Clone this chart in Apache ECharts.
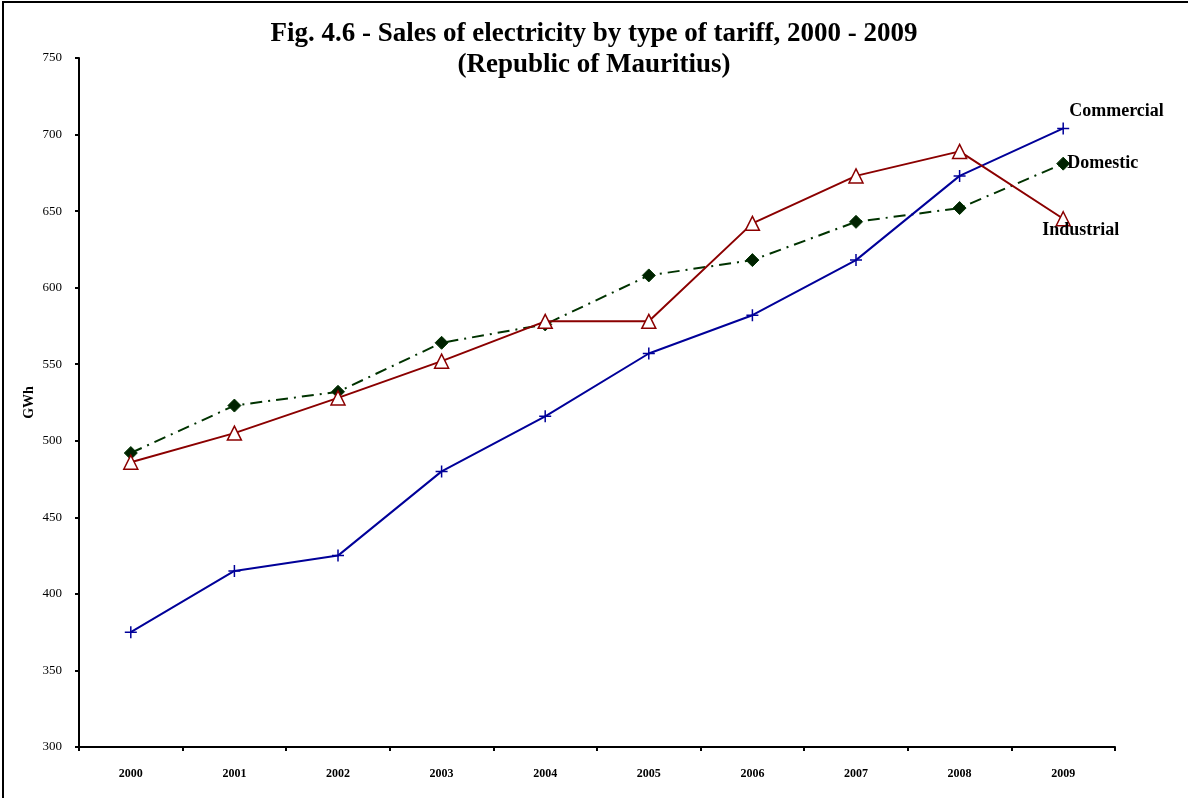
<!DOCTYPE html>
<html>
<head>
<meta charset="utf-8">
<title>Sales of electricity by type of tariff</title>
<script src="https://cdn.jsdelivr.net/npm/echarts@6/dist/echarts.min.js"></script>
<style>
  html, body { margin: 0; padding: 0; background: #fff; }
  #frame { position: absolute; left: 2px; top: 1px; width: 1186px; height: 797px;
           border-left: 2px solid #000; border-top: 2px solid #000; box-sizing: border-box; }
  #chart { position: absolute; left: 0; top: 0; width: 1188px; height: 798px; }
</style>
</head>
<body>
<div id="frame"></div>
<div id="chart"></div>
<script>
// 年份
const years = ['2000', '2001', '2002', '2003', '2004', '2005', '2006', '2007', '2008', '2009']
// GWh per tariff
const commercial = [375, 415, 425, 480, 516, 557, 582, 618, 673, 704]
const domestic = [492, 523, 532, 564, 576, 608, 618, 643, 652, 681]
const industrial = [486, 505, 528, 552, 578, 578, 642, 673, 689, 645]

const serif = '"Liberation Serif", "Times New Roman", serif'
const chart = echarts.init(document.getElementById('chart'))

// 末端标签
function endLabel(offset) {
  return {
    show: true,
    formatter: '{a}',
    fontFamily: serif,
    fontWeight: 'bold',
    fontSize: 18,
    color: '#000',
    distance: 6,
    offset: offset
  }
}

chart.setOption({
  animation: false,
  title: {
    text: 'Fig. 4.6 - Sales of electricity by type of tariff, 2000 - 2009\n(Republic of Mauritius)',
    left: 'center',
    top: 14,
    textStyle: {
      fontFamily: serif,
      fontWeight: 'bold',
      fontSize: 27,
      lineHeight: 31,
      color: '#000'
    }
  },
  grid: {
    left: 79,
    right: 73,
    top: 58,
    bottom: 51
  },
  xAxis: {
    type: 'category',
    data: years,
    axisLine: { lineStyle: { color: '#000', width: 2 } },
    axisTick: { show: true, length: 4, lineStyle: { color: '#000', width: 2 } },
    axisLabel: {
      fontFamily: serif,
      fontWeight: 'bold',
      fontSize: 12,
      color: '#000',
      margin: 21
    }
  },
  yAxis: {
    type: 'value',
    min: 300,
    max: 750,
    interval: 50,
    name: 'GWh',
    nameLocation: 'middle',
    nameGap: 43,
    nameMoveOverlap: false,
    nameTextStyle: {
      fontFamily: serif,
      fontWeight: 'bold',
      fontSize: 14,
      color: '#000'
    },
    axisLine: { show: true, lineStyle: { color: '#000', width: 2 } },
    axisTick: { show: true, length: 4, lineStyle: { color: '#000', width: 2 } },
    splitLine: { show: false },
    axisLabel: {
      fontFamily: serif,
      fontSize: 13,
      color: '#000',
      margin: 17
    }
  },
  series: [
    {
      name: 'Commercial',
      type: 'line',
      data: commercial,
      // 十字标记
      symbol: 'path://M5,0 L5,10 M0,5 L10,5',
      symbolSize: 12,
      itemStyle: { color: 'none', borderColor: '#000099', borderWidth: 1.5 },
      lineStyle: { color: '#000099', width: 2 },
      endLabel: endLabel([0, -17]),
      z: 3
    },
    {
      name: 'Domestic',
      type: 'line',
      data: domestic,
      symbol: 'diamond',
      symbolSize: 13,
      itemStyle: { color: '#002200', borderColor: '#003300', borderWidth: 1 },
      lineStyle: { color: '#003300', width: 2, type: [12, 6, 2, 6] },
      endLabel: endLabel([-2, 0]),
      z: 2
    },
    {
      name: 'Industrial',
      type: 'line',
      data: industrial,
      symbol: 'triangle',
      symbolSize: 14,
      itemStyle: { color: '#fff', borderColor: '#8b0000', borderWidth: 1.5 },
      lineStyle: { color: '#8b0000', width: 2 },
      endLabel: endLabel([-27, 12]),
      z: 4
    }
  ]
})
</script>
</body>
</html>
